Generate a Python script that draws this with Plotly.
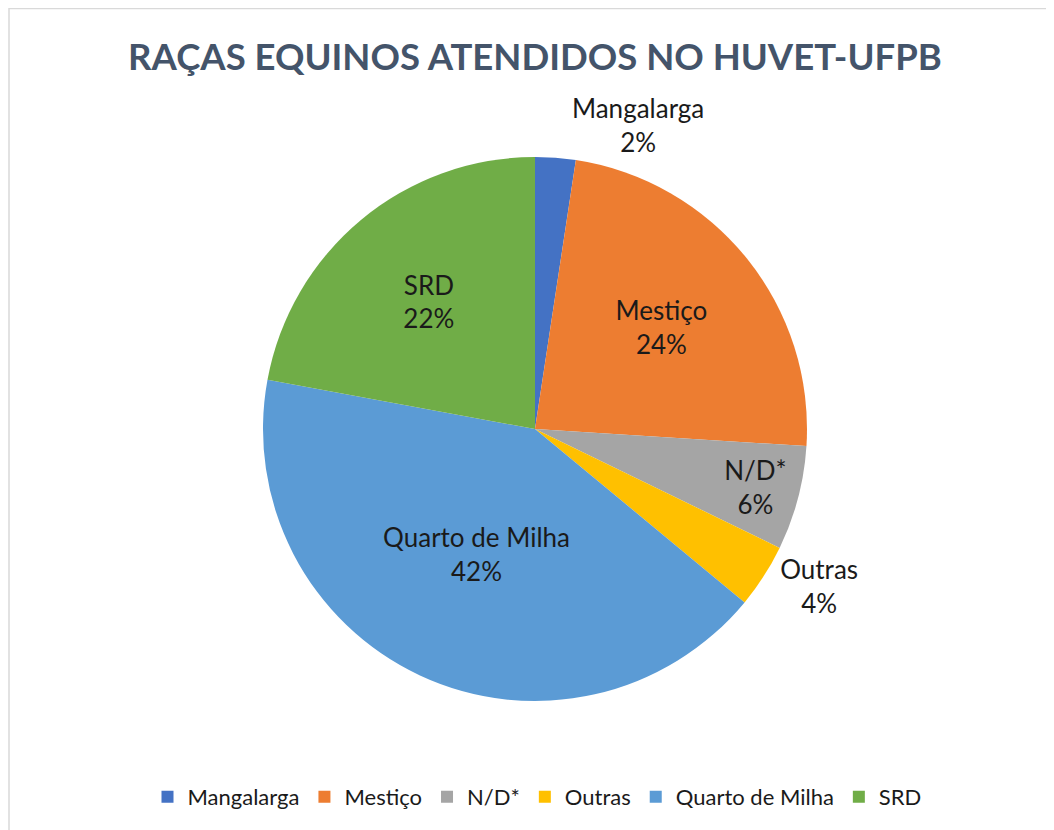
import plotly.graph_objects as go

categories = ["Mangalarga", "Mestiço", "N/D*", "Outras", "Quarto de Milha", "SRD"]
values = [2.4, 23.6, 6.2, 3.8, 41.9, 22.1]
colors = ["#4472C4", "#ED7D31", "#A5A5A5", "#FFC000", "#5B9BD5", "#70AD47"]
text_positions = ["outside", "inside", "inside", "outside", "inside", "inside"]

W, H = 1054, 830
OFF = 8  # page body margin
cx, cy, r = 535 - OFF, 429 - OFF, 272

fig = go.Figure(go.Pie(
    labels=categories,
    values=values,
    sort=False,
    direction="clockwise",
    rotation=0,
    marker=dict(colors=colors, line=dict(width=0)),
    texttemplate="%{label}<br>%{percent:.0%}",
    textposition=text_positions,
    insidetextorientation="horizontal",
    textfont=dict(family="Lato, Open Sans, sans-serif", size=26, color="#1a1a1a"),
    domain=dict(x=[(cx - r) / W, (cx + r) / W], y=[(H - cy - r) / H, (H - cy + r) / H]),
    hoverinfo="label+percent",
))

fig.update_layout(
    width=W, height=H,
    margin=dict(l=0, r=0, t=0, b=0),
    paper_bgcolor="white",
    title=dict(
        text="<b>RAÇAS EQUINOS ATENDIDOS NO HUVET-UFPB</b>",
        x=(535 - OFF) / W, xanchor="center",
        y=1 - (57 - OFF) / H, yanchor="middle",
        font=dict(family="Lato, Open Sans, sans-serif", size=36.5, color="#44546A"),
    ),
    legend=dict(
        orientation="h",
        x=(537 - OFF) / W, xanchor="center",
        y=1 - (797 - OFF) / H, yanchor="middle",
        font=dict(family="Lato, Open Sans, sans-serif", size=22, color="#1a1a1a"),
        itemwidth=30,
    ),
    uniformtext=dict(minsize=26, mode="show"),
    shapes=[dict(
        type="rect", xref="paper", yref="paper",
        x0=1 / W, x1=1.05, y0=-0.05, y1=1 - 0.5 / H,
        line=dict(color="#D9D9D9", width=1.5),
        fillcolor="rgba(0,0,0,0)",
    )],
)

fig.write_html("out.html")
